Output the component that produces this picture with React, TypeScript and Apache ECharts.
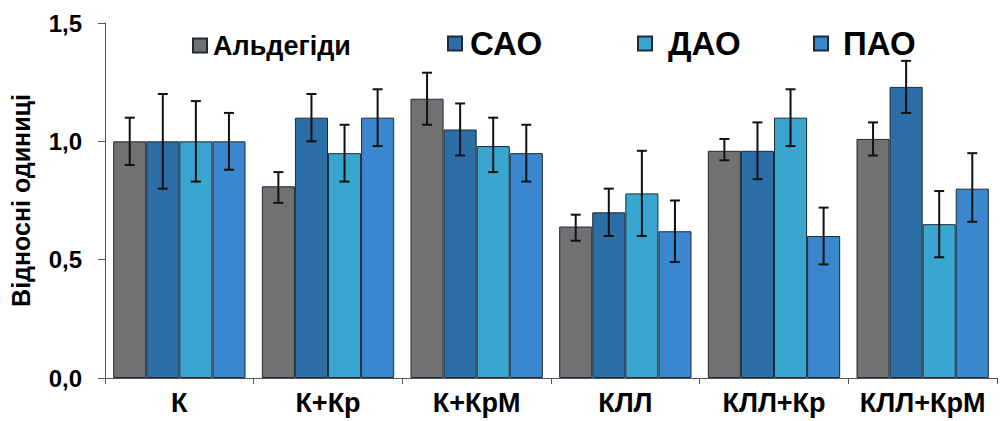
import React, { useEffect, useRef } from "react";
import * as echarts from "echarts";

const categories = ["К", "К+Кр", "К+КрМ", "КЛЛ", "КЛЛ+Кр", "КЛЛ+КрМ"];
const seriesNames = ["Альдегіди", "САО", "ДАО", "ПАО"];
const aldehydes = [1.0, 0.81, 1.18, 0.64, 0.96, 1.01];
const sao = [1.0, 1.1, 1.05, 0.7, 0.96, 1.23];
const dao = [1.0, 0.95, 0.98, 0.78, 1.1, 0.65];
const pao = [1.0, 1.1, 0.95, 0.62, 0.6, 0.8];
const aldehydesErr = [[0.9, 1.1], [0.74, 0.87], [1.07, 1.29], [0.58, 0.69], [0.92, 1.01], [0.94, 1.08]];
const saoErr = [[0.8, 1.2], [1.0, 1.2], [0.94, 1.16], [0.6, 0.8], [0.84, 1.08], [1.12, 1.34]];
const daoErr = [[0.83, 1.17], [0.83, 1.07], [0.87, 1.1], [0.6, 0.96], [0.98, 1.22], [0.51, 0.79]];
const paoErr = [[0.88, 1.12], [0.98, 1.22], [0.83, 1.07], [0.49, 0.75], [0.48, 0.72], [0.66, 0.95]];
const yTicks = ["0,0", "0,5", "1,0", "1,5"];

const colors = ["#717171", "#2c6ea6", "#38a6cf", "#3b87cf"];
const CAT_GAP = 0.11;

export default function App() {
  const ref = useRef<HTMLDivElement>(null);
  useEffect(() => {
    if (!ref.current) return;
    const chart = echarts.init(ref.current, undefined, { renderer: "svg" });
    const values = [aldehydes, sao, dao, pao];
    const errs = [aldehydesErr, saoErr, daoErr, paoErr];
    const errData: number[][] = [];
    errs.forEach((e, s) => e.forEach((r, c) => errData.push([c, s, r[0], r[1]])));

    const legendPos = [
      { left: 192, top: 32, size: 27, pad: 1 },
      { left: 447, top: 27, size: 33, pad: 3 },
      { left: 637, top: 27, size: 33, pad: 11 },
      { left: 813, top: 27, size: 33, pad: 10 },
    ];

    const option: any = {
      animation: false,
      grid: { left: 103, right: 9, top: 23, bottom: 43 },
      legend: seriesNames.map((n, i) => ({
        data: [n],
        left: legendPos[i].left,
        top: legendPos[i].top,
        icon: "rect",
        itemWidth: 14,
        itemHeight: 14,
        padding: 0,
        textStyle: {
          fontFamily: "Liberation Sans",
          fontWeight: "bold",
          fontSize: legendPos[i].size,
          color: "#000",
          padding: [0, 0, 0, legendPos[i].pad],
        },
      })),
      xAxis: {
        type: "category",
        data: categories,
        axisLine: { lineStyle: { color: "#555", width: 1 } },
        axisTick: { show: true, alignWithLabel: false, length: 6, lineStyle: { color: "#555" } },
        axisLabel: {
          fontFamily: "Liberation Sans",
          fontWeight: "bold",
          fontSize: 27,
          color: "#000",
          margin: 11,
          interval: 0,
        },
      },
      yAxis: {
        type: "value",
        min: 0,
        max: 1.5,
        interval: 0.5,
        name: "Відносні одиниці",
        nameLocation: "middle",
        nameGap: 72,
        nameTextStyle: { fontFamily: "Liberation Sans", fontWeight: "bold", fontSize: 25, color: "#000" },
        axisLine: { show: true, lineStyle: { color: "#555", width: 1 } },
        axisTick: { show: true, length: 7, lineStyle: { color: "#555" } },
        splitLine: { show: false },
        axisLabel: {
          fontFamily: "Liberation Sans",
          fontWeight: "bold",
          fontSize: 24,
          color: "#000",
          margin: 23,
          formatter: (v: number) => yTicks[Math.round(v / 0.5)] ?? "",
        },
      },
      series: [
        ...seriesNames.map((n, i) => ({
          name: n,
          type: "bar",
          data: values[i],
          barGap: "0%",
          barCategoryGap: CAT_GAP * 100 + "%",
          itemStyle: { color: colors[i], borderColor: "#1c2a3a", borderWidth: 1 },
        })),
        {
          type: "custom",
          data: errData,
          z: 10,
          renderItem: (params: any, api: any) => {
            const c = api.value(0);
            const s = api.value(1);
            const lo = api.coord([c, api.value(2)]);
            const hi = api.coord([c, api.value(3)]);
            const band = api.size([1, 0])[0];
            const bw = (band * (1 - CAT_GAP)) / 4;
            const x = lo[0] + (s - 1.5) * bw;
            const cap = 5;
            const st = { stroke: "#111", lineWidth: 2 };
            return {
              type: "group",
              children: [
                { type: "line", shape: { x1: x, y1: lo[1], x2: x, y2: hi[1] }, style: st },
                { type: "line", shape: { x1: x - cap, y1: lo[1], x2: x + cap, y2: lo[1] }, style: st },
                { type: "line", shape: { x1: x - cap, y1: hi[1], x2: x + cap, y2: hi[1] }, style: st },
              ],
            };
          },
        },
      ],
    };
    chart.setOption(option);
    return () => chart.dispose();
  }, []);
  return <div ref={ref} style={{ width: 1006, height: 421, position: "absolute", left: 0, top: 0 }} />;
}
